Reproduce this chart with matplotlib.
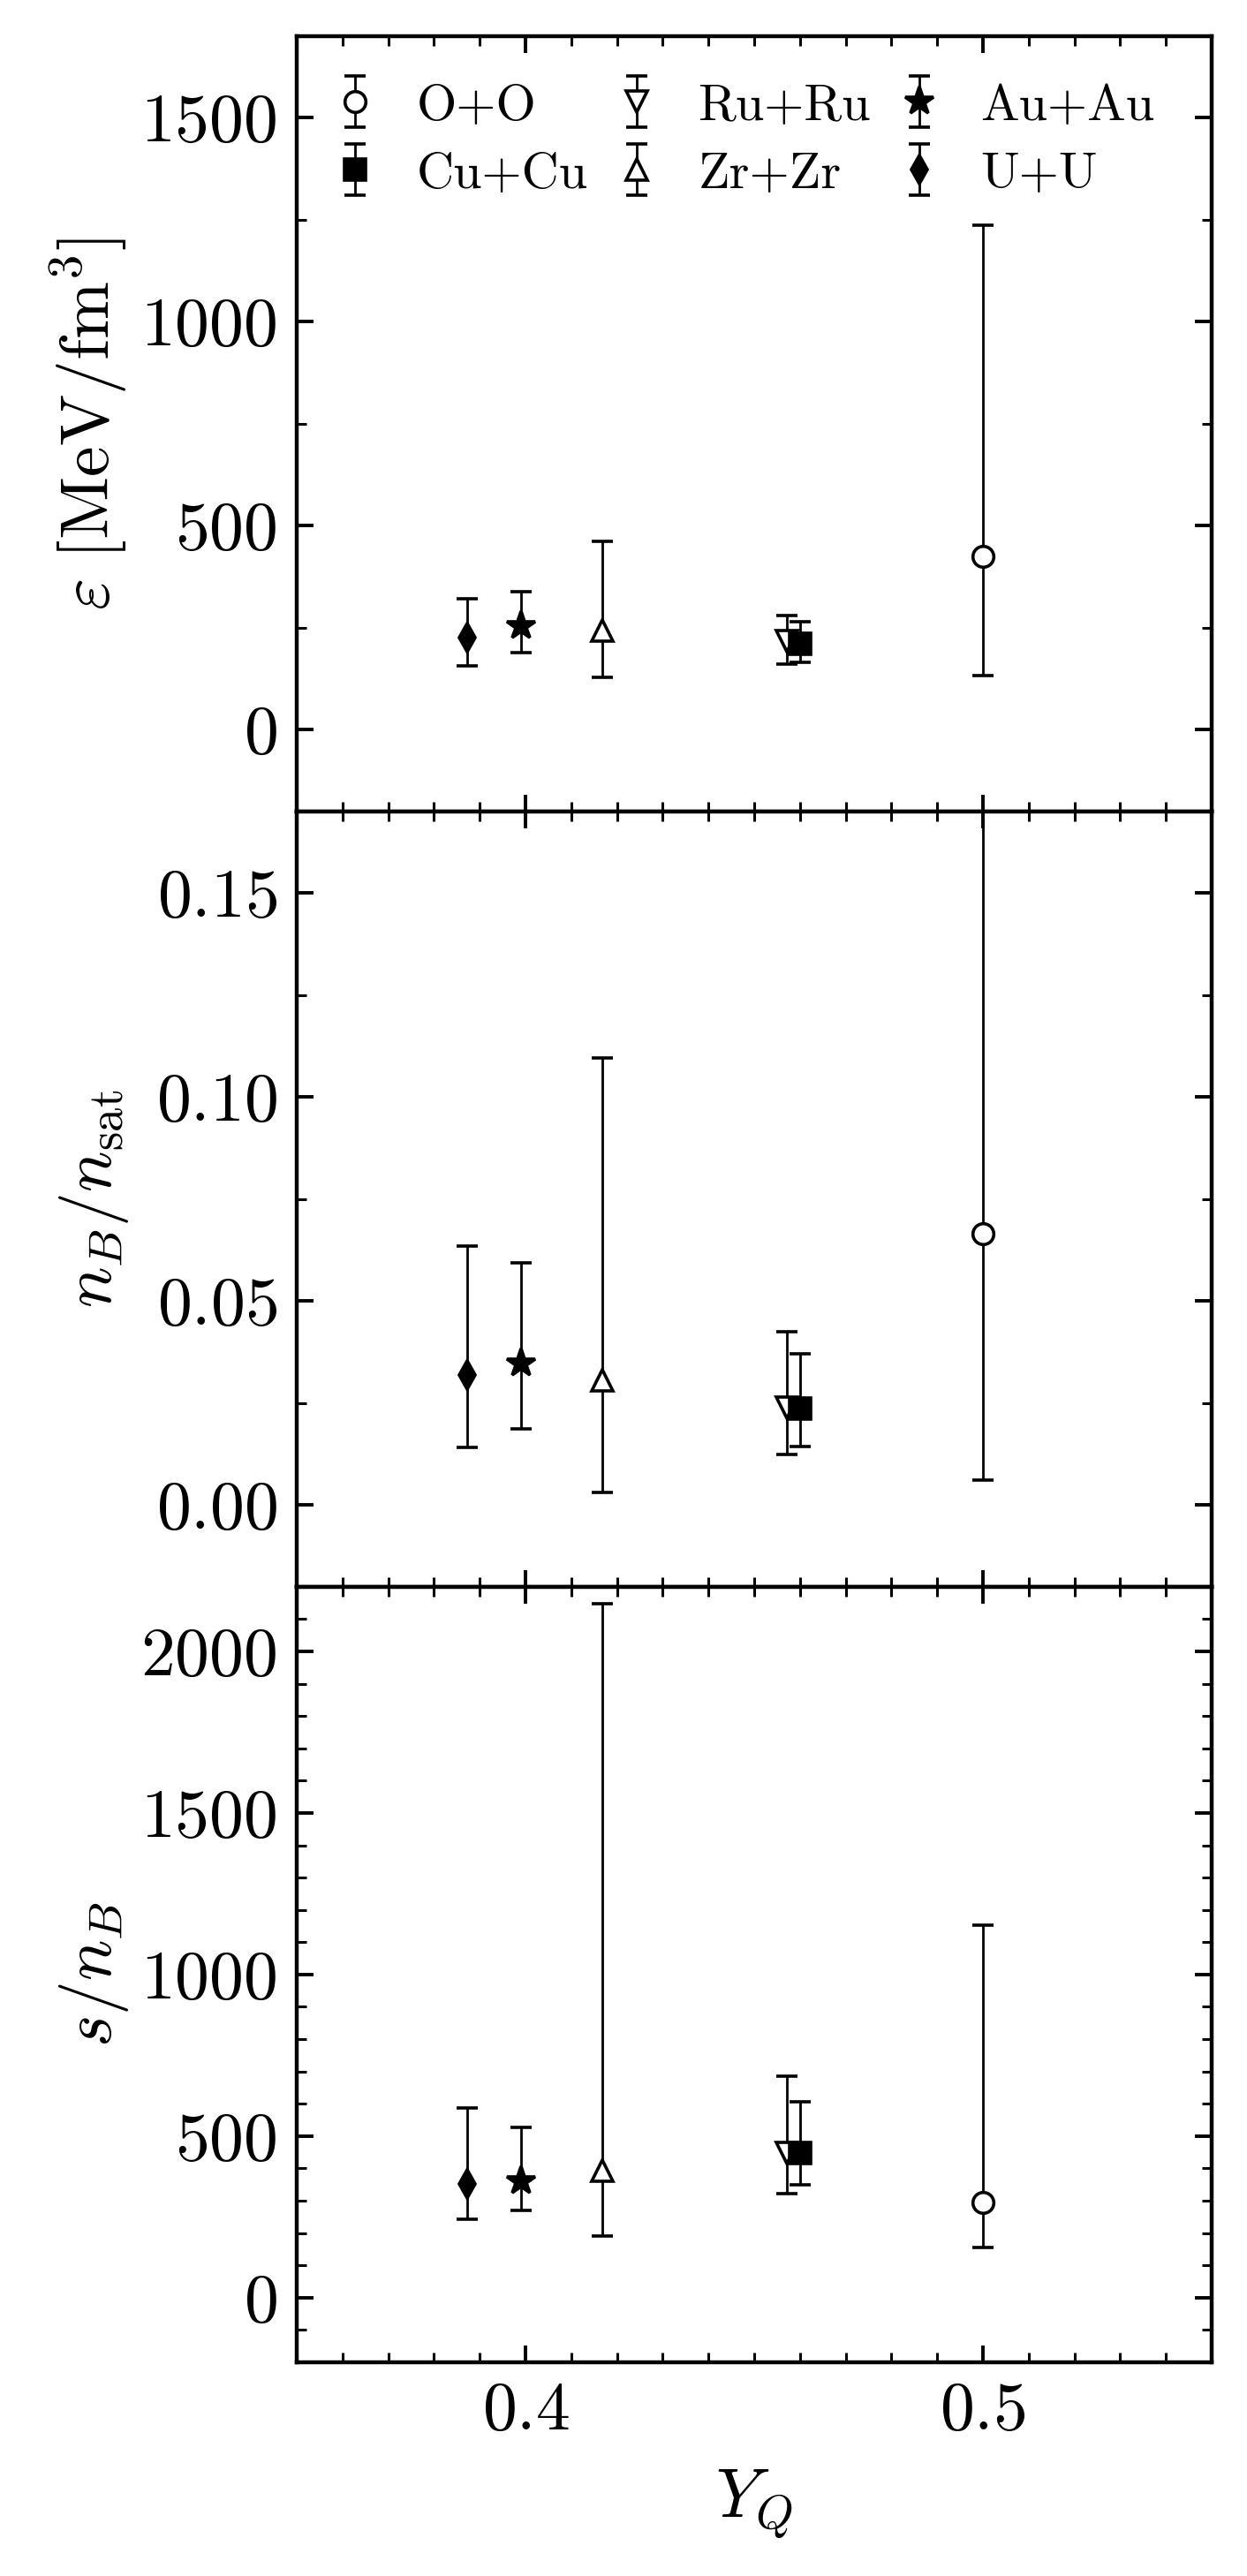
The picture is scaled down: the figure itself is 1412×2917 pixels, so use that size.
import matplotlib
matplotlib.use("Agg")
import matplotlib.pyplot as plt
from matplotlib.ticker import MultipleLocator

plt.rcParams['font.family'] = 'serif'
plt.rcParams['font.serif'] = ['cmr10']
plt.rcParams['mathtext.fontset'] = 'cm'
plt.rcParams['axes.formatter.use_mathtext'] = True
plt.rcParams['axes.unicode_minus'] = False

systems = ["O+O", "Cu+Cu", "Ru+Ru", "Zr+Zr", "Au+Au", "U+U"]
YQ = [0.500, 0.4601, 0.4571, 0.4168, 0.3990, 0.3872]
markers = ["o", "s", "v", "^", "*", "d"]
filled = [False, True, False, False, True, True]

# energy density [MeV/fm^3]: central, upper, lower
eps_c = [426, 211, 217, 243, 255, 225]
eps_hi = [1237, 264, 280, 461, 338, 322]
eps_lo = [132, 166, 162, 128, 189, 156]

# n_B / n_sat
nb_c = [0.0665, 0.0236, 0.0240, 0.0306, 0.0348, 0.0319]
nb_hi = [0.200, 0.0370, 0.0426, 0.1097, 0.0594, 0.0635]
nb_lo = [0.0062, 0.0143, 0.0124, 0.0032, 0.0186, 0.0142]

# s / n_B
s_c = [295, 447, 447, 392, 360, 353]
s_hi = [1154, 605, 685, 2147, 527, 588]
s_lo = [154, 350, 321, 191, 270, 243]

panels = [
    (eps_c, eps_hi, eps_lo, r"$\varepsilon\ [\mathrm{MeV/fm^3}]$", (-200, 1700), 500, 250),
    (nb_c, nb_hi, nb_lo, r"$n_B/n_{\rm sat}$", (-0.02, 0.17), 0.05, 0.025),
    (s_c, s_hi, s_lo, r"$s/n_B$", (-200, 2200), 500, 100),
]

msizes = {"o": 8.5, "s": 8.5, "v": 8.5, "^": 8.5, "*": 12, "d": 8}

fig, axes = plt.subplots(3, 1, figsize=(7.06, 14.585), dpi=200, sharex=True)
fig.subplots_adjust(left=0.238, right=0.9717, top=0.986, bottom=0.083, hspace=0)

draw_order = [0, 2, 3, 1, 4, 5]
handles = {}
for ax, (c, hi, lo, lab, ylim, maj, mnr) in zip(axes, panels):
    for i in draw_order:
        yerr = [[c[i] - lo[i]], [hi[i] - c[i]]]
        h = ax.errorbar([YQ[i]], [c[i]], yerr=yerr, fmt=markers[i],
                        color='black', mfc='black' if filled[i] else 'white',
                        mec='black', mew=1.3, ms=msizes[markers[i]],
                        elinewidth=1.0, capsize=4.2, capthick=1.0,
                        label=systems[i])
        handles[i] = h
    ax.set_ylim(*ylim)
    ax.set_xlim(0.35, 0.55)
    ax.yaxis.set_major_locator(MultipleLocator(maj))
    ax.yaxis.set_minor_locator(MultipleLocator(mnr))
    ax.xaxis.set_major_locator(MultipleLocator(0.1))
    ax.xaxis.set_minor_locator(MultipleLocator(0.01))
    ax.tick_params(which='both', direction='in', top=True, right=True)
    ax.tick_params(which='major', length=7, width=1.4, labelsize=28, pad=8)
    ax.tick_params(which='minor', length=4, width=1.1)
    for sp in ax.spines.values():
        sp.set_linewidth(1.6)
    ax.set_ylabel(lab, fontsize=28)

axes[2].set_xlabel(r"$Y_Q$", fontsize=28, labelpad=10)
fig.align_ylabels(axes)

leg = axes[0].legend([handles[i] for i in range(6)], systems, ncol=3, loc='upper left',
                     bbox_to_anchor=(0.013, 0.965), borderaxespad=0,
                     frameon=False, fontsize=21, handlelength=1.0, handletextpad=0.69,
                     columnspacing=0.45, labelspacing=0.43)

fig.savefig("out.png", dpi=200)
